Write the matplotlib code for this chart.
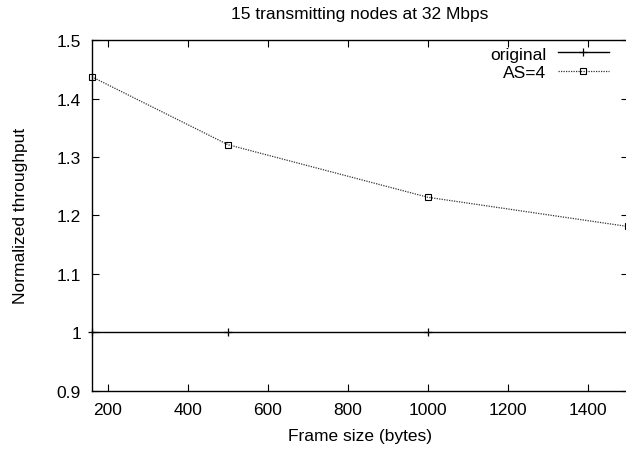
import matplotlib

matplotlib.use("Agg")
import matplotlib.pyplot as plt
from matplotlib.ticker import FuncFormatter

plt.rcParams["font.family"] = ["Liberation Sans", "DejaVu Sans"]
plt.rcParams["font.size"] = 12.5

frame_sizes = [160, 500, 1000, 1500]
original = [1.0, 1.0, 1.0, 1.0]
as4 = [1.437, 1.321, 1.231, 1.181]

x_ticks = [200, 400, 600, 800, 1000, 1200, 1400]
y_ticks = [0.9, 1.0, 1.1, 1.2, 1.3, 1.4, 1.5]

fig = plt.figure(figsize=(6.26, 4.52), dpi=100)
# right edge sits slightly past the image, like the gnuplot original
ax = fig.add_axes([0.147, 0.1334, 0.856, 0.7757])

ax.plot(frame_sizes, original, color="black", linewidth=1.0, marker="+",
        markersize=6, markeredgewidth=0.9, label="original", clip_on=False)
ax.plot(frame_sizes, as4, color="#333333", linewidth=0.9, linestyle=(0, (1, 1)),
        marker="s", markersize=5, markerfacecolor="none", markeredgecolor="black",
        markeredgewidth=0.8, label="AS=4", clip_on=False)

ax.set_xlim(160, 1500)
ax.set_ylim(0.9, 1.5)
ax.set_xticks(x_ticks)
ax.set_yticks(y_ticks)
ax.yaxis.set_major_formatter(FuncFormatter(lambda v, p: f"{v:g}"))
ax.tick_params(direction="in", top=True, right=True, length=5, width=0.8)
ax.tick_params(axis="x", pad=8)
ax.tick_params(axis="y", pad=8)
for s in ax.spines.values():
    s.set_linewidth(1.0)

ax.set_title("15 transmitting nodes at 32 Mbps", fontsize=12.5, pad=16)
ax.set_xlabel("Frame size (bytes)", labelpad=8)
ax.set_ylabel("Normalized throughput")
ax.yaxis.set_label_coords(-0.12, 0.5)

ax.legend(loc="upper right", frameon=False, markerfirst=False, handlelength=2.9,
          handletextpad=0.7, borderaxespad=0, borderpad=0, labelspacing=0.2,
          bbox_to_anchor=(0.964, 0.982))

fig.savefig("out.png", dpi=100)
